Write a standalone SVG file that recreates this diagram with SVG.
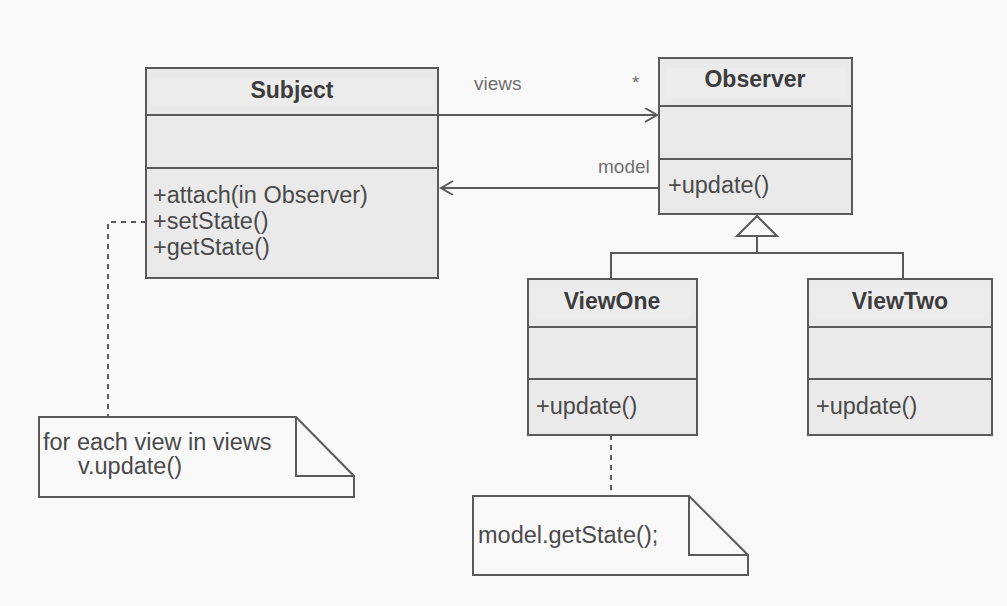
<svg xmlns="http://www.w3.org/2000/svg" width="1007" height="606" viewBox="0 0 1007 606">
<defs>
<style>
.box{fill:#eaeaea;stroke:#5a5a5a;stroke-width:2}
.band{fill:#ececec;stroke:none}
.sep{stroke:#5a5a5a;stroke-width:2;fill:none}
.title{font-family:"Liberation Sans",Arial,sans-serif;font-size:23px;font-weight:bold;fill:#3c3c3c;text-anchor:middle}
.mem{font-family:"Liberation Sans",Arial,sans-serif;font-size:23.5px;fill:#4a4a4a}
.lbl{font-family:"Liberation Sans",Arial,sans-serif;font-size:19px;fill:#707070}
.note{fill:#f9f9f9;stroke:#5a5a5a;stroke-width:2}
.line{stroke:#5a5a5a;stroke-width:2;fill:none}
.dash{stroke:#5a5a5a;stroke-width:2;fill:none;stroke-dasharray:5 5}
</style>
<marker id="open" markerWidth="16" markerHeight="16" refX="13" refY="7" orient="auto" markerUnits="userSpaceOnUse">
<path d="M1,0 L13,7 L1,14" fill="none" stroke="#5a5a5a" stroke-width="2"/>
</marker>
</defs>
<rect x="0" y="0" width="1007" height="606" fill="#f9f9f9"/>

<g id="connectors">
<line class="line" x1="439" y1="115" x2="657" y2="115" marker-end="url(#open)"/>
<line class="line" x1="658" y1="188" x2="441" y2="188" marker-end="url(#open)"/>
<polygon points="757,216 737,236 777,236" fill="#f9f9f9" stroke="#5a5a5a" stroke-width="2"/>
<polyline class="line" points="757,236 757,253"/>
<polyline class="line" points="611,279 611,253 903,253 903,279"/>
<polyline class="dash" points="146,222 108,222 108,417"/>
<line class="dash" x1="611" y1="435" x2="611" y2="496"/>
<text class="lbl" x="474" y="90">views</text>
<text class="lbl" x="632" y="89">*</text>
<text class="lbl" x="598" y="173">model</text>
</g>

<g id="Subject">
<rect class="box" x="146" y="68" width="292" height="210"/>
<rect class="band" x="150" y="78" width="284" height="28"/>
<line class="sep" x1="146" y1="115" x2="438" y2="115"/>
<line class="sep" x1="146" y1="168" x2="438" y2="168"/>
<text class="title" x="292" y="98">Subject</text>
<text class="mem" x="153" y="203">+attach(in Observer)</text>
<text class="mem" x="153" y="229">+setState()</text>
<text class="mem" x="153" y="255">+getState()</text>
</g>

<g id="Observer">
<rect class="box" x="659" y="58" width="193" height="156"/>
<rect class="band" x="666" y="68" width="180" height="29"/>
<line class="sep" x1="659" y1="106" x2="852" y2="106"/>
<line class="sep" x1="659" y1="159" x2="852" y2="159"/>
<text class="title" x="755" y="87">Observer</text>
<text class="mem" x="668" y="193">+update()</text>
</g>

<g id="ViewOne">
<rect class="box" x="528" y="279" width="169" height="156"/>
<rect class="band" x="534" y="288" width="157" height="29"/>
<line class="sep" x1="528" y1="327" x2="697" y2="327"/>
<line class="sep" x1="528" y1="379" x2="697" y2="379"/>
<text class="title" x="612" y="309">ViewOne</text>
<text class="mem" x="536" y="414">+update()</text>
</g>

<g id="ViewTwo">
<rect class="box" x="808" y="279" width="184" height="156"/>
<rect class="band" x="814" y="288" width="172" height="29"/>
<line class="sep" x1="808" y1="327" x2="992" y2="327"/>
<line class="sep" x1="808" y1="379" x2="992" y2="379"/>
<text class="title" x="900" y="309">ViewTwo</text>
<text class="mem" x="816" y="414">+update()</text>
</g>

<g id="note1">
<path class="note" d="M39,417 L296,417 L354,476 L354,497 L39,497 Z"/>
<polyline class="line" points="296,417 296,476 354,476"/>
<text class="mem" x="43" y="450">for each view in views</text>
<text class="mem" x="78" y="474">v.update()</text>
</g>

<g id="note2">
<path class="note" d="M473,496 L689,496 L748,555 L748,575 L473,575 Z"/>
<polyline class="line" points="689,496 689,555 748,555"/>
<text class="mem" x="478" y="543">model.getState();</text>
</g>
</svg>
